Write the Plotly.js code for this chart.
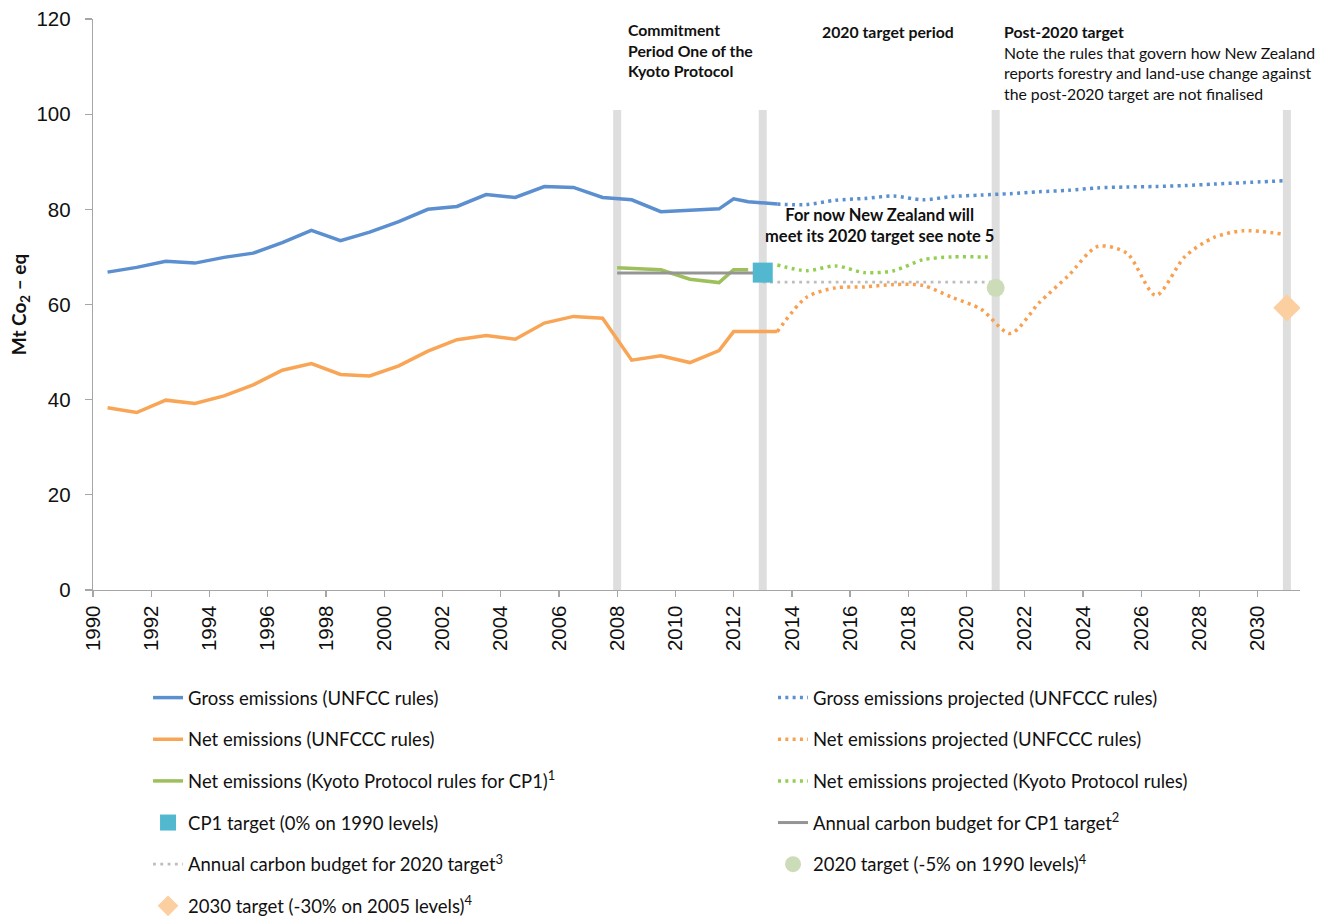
<!DOCTYPE html>
<html>
<head>
<meta charset="utf-8">
<script src="https://cdn.plot.ly/plotly-3.0.1.min.js"></script>
<style>html,body{margin:0;padding:0;background:#fff;}#chart{width:1318px;height:916px;}</style>
</head>
<body>
<div id="chart"></div>
<script>
// ---- Data (Mt CO2-eq), x = position in years ----
var histX = [1990.5,1991.5,1992.5,1993.5,1994.5,1995.5,1996.5,1997.5,1998.5,1999.5,2000.5,2001.5,2002.5,2003.5,2004.5,2005.5,2006.5,2007.5,2008.5,2009.5,2010.5,2011.5,2012.0,2012.5,2013.5];
var grossEmissions = [66.8,67.8,69.1,68.7,69.9,70.8,73.0,75.6,73.4,75.2,77.4,80.0,80.6,83.1,82.5,84.8,84.6,82.5,82.0,79.5,79.8,80.1,82.2,81.6,81.1];
var netEmissions = [38.3,37.3,39.9,39.2,40.8,43.1,46.2,47.6,45.3,45.0,47.1,50.2,52.6,53.5,52.7,56.1,57.5,57.1,48.3,49.2,47.8,50.3,54.3,54.3,54.3];

var kyotoX = [2008.0,2008.5,2009.5,2010.5,2011.5,2012.0,2012.5];
var kyotoNet = [67.7,67.6,67.3,65.3,64.6,67.3,67.3];

var projX = [2013.5,2014.5,2015.5,2016.5,2017.5,2018.5,2019.5,2020.5,2021.5,2022.5,2023.5,2024.5,2025.5,2026.5,2027.5,2028.5,2029.5,2030.85];
var grossProjected = [81.1,81.0,81.9,82.3,82.8,82.0,82.7,83.0,83.3,83.7,84.0,84.5,84.7,84.8,85.0,85.3,85.6,86.0];
var netProjected = [54.3,61.5,63.5,63.7,64.2,64.0,61.5,59.0,53.9,60.4,66.1,72.2,70.8,61.9,70.1,74.1,75.5,74.8];

var kyotoProjX = [2013.5,2014.5,2015.5,2016.5,2017.5,2018.5,2019.5,2020.5,2020.8];
var kyotoProjected = [68.3,67.1,68.1,66.7,67.1,69.4,70.0,70.0,70.0];

var cp1BudgetX = [2008,2013];
var cp1Budget = [66.6,66.6];
var budget2020X = [2013,2021];
var budget2020 = [64.7,64.7];

var cp1TargetX = [2013]; var cp1Target = [66.7];
var target2020X = [2021]; var target2020 = [63.5];
var target2030X = [2031]; var target2030 = [59.3];

var periodBoundaries = [2008, 2013, 2021, 2031];
var xTickVals = [1990,1992,1994,1996,1998,2000,2002,2004,2006,2008,2010,2012,2014,2016,2018,2020,2022,2024,2026,2028,2030];
var xTickText = ["1990","1992","1994","1996","1998","2000","2002","2004","2006","2008","2010","2012","2014","2016","2018","2020","2022","2024","2026","2028","2030"];

var labels = {
  gross: "Gross emissions (UNFCC rules)",
  net: "Net emissions (UNFCCC rules)",
  kyoto: "Net emissions (Kyoto Protocol rules for CP1)<sup>1</sup>",
  cp1Target: "CP1 target (0% on 1990 levels)",
  budget2020: "Annual carbon budget for 2020 target<sup>3</sup>",
  target2030: "2030 target (-30% on 2005 levels)<sup>4</sup>",
  grossProj: "Gross emissions projected (UNFCCC rules)",
  netProj: "Net emissions projected (UNFCCC rules)",
  kyotoProj: "Net emissions projected (Kyoto Protocol rules)",
  cp1Budget: "Annual carbon budget for CP1 target<sup>2</sup>",
  target2020: "2020 target (-5% on 1990 levels)<sup>4</sup>"
};

// ---- Styles ----
var C = {
  blue: '#5b8fcf', orange: '#f9a556', green: '#9dc05a',
  blueDot: '#5a8fd0', orangeDot: '#f9a04f', greenDot: '#92cf50',
  grey: '#959595', greyDot: '#bdbdbd',
  square: '#52b8cf', circle: '#cddcb8', diamond: '#fccfa0', band: '#dedede'
};
var DOT = '3px,4.3px';

var traces = [
  {x: histX, y: grossEmissions, name: labels.gross, mode: 'lines', line: {color: C.blue, width: 3.5}, legend: 'legend', legendgroup: 'a1', legendrank: 1},
  {x: histX, y: netEmissions, name: labels.net, mode: 'lines', line: {color: C.orange, width: 3.5}, legend: 'legend', legendgroup: 'a2', legendrank: 2},
  {x: kyotoX, y: kyotoNet, name: labels.kyoto, mode: 'lines', line: {color: C.green, width: 3.5}, legend: 'legend', legendgroup: 'a3', legendrank: 3},
  {x: projX, y: grossProjected, name: labels.grossProj, mode: 'lines', line: {color: C.blueDot, width: 3.5, dash: DOT, shape: 'spline', smoothing: 0.8}, legend: 'legend2', legendgroup: 'b1', legendrank: 1},
  {x: projX, y: netProjected, name: labels.netProj, mode: 'lines', line: {color: C.orangeDot, width: 3.5, dash: DOT, shape: 'spline', smoothing: 0.8}, legend: 'legend2', legendgroup: 'b2', legendrank: 2},
  {x: kyotoProjX, y: kyotoProjected, name: labels.kyotoProj, mode: 'lines', line: {color: C.greenDot, width: 3.5, dash: DOT, shape: 'spline', smoothing: 0.8}, legend: 'legend2', legendgroup: 'b3', legendrank: 3},
  {x: cp1BudgetX, y: cp1Budget, name: labels.cp1Budget, mode: 'lines', line: {color: C.grey, width: 3}, legend: 'legend2', legendgroup: 'b4', legendrank: 4},
  {x: budget2020X, y: budget2020, name: labels.budget2020, mode: 'lines', line: {color: C.greyDot, width: 2.8, dash: '2.8px,4.5px'}, legend: 'legend', legendgroup: 'a5', legendrank: 5},
  {x: cp1TargetX, y: cp1Target, name: labels.cp1Target, mode: 'markers', marker: {symbol: 'square', size: 20, color: C.square}, legend: 'legend', legendgroup: 'a4', legendrank: 4},
  {x: target2020X, y: target2020, name: labels.target2020, mode: 'markers', marker: {symbol: 'circle', size: 18, color: C.circle}, legend: 'legend2', legendgroup: 'b5', legendrank: 5},
  {x: target2030X, y: target2030, name: labels.target2030, mode: 'markers', marker: {symbol: 'diamond', size: 21, color: C.diamond}, legend: 'legend', legendgroup: 'a6', legendrank: 6}
];

var shapes = periodBoundaries.map(function (b) {
  return {type: 'line', xref: 'x', yref: 'y', x0: b, x1: b, y0: -0.8, y1: 100.9, layer: 'below', line: {color: C.band, width: 8}};
});

var annFont = {family: 'Lato, "Open Sans", sans-serif', size: 15.8, color: '#111'};
var annotations = [
  {xref: 'x', yref: 'y', x: 2008.3, y: 119.9, yshift: 1.5, xanchor: 'left', yanchor: 'top', align: 'left', showarrow: false,
   text: '<b>Commitment<br>Period One of the<br>Kyoto Protocol</b>', font: annFont},
  {xref: 'x', yref: 'y', x: 2014.95, y: 119.8, xanchor: 'left', yanchor: 'top', align: 'left', showarrow: false,
   text: '<b>2020 target period</b>', font: annFont},
  {xref: 'x', yref: 'y', x: 2021.2, y: 119.85, xanchor: 'left', yanchor: 'top', align: 'left', showarrow: false,
   text: '<b>Post-2020 target</b><br>Note the rules that govern how New Zealand<br>reports forestry and land-use change against<br>the post-2020 target are not finalised', font: annFont},
  {xref: 'x', yref: 'y', x: 2017.0, y: 81.3, xanchor: 'center', yanchor: 'top', align: 'center', showarrow: false,
   text: '<b>For now New Zealand will<br>meet its 2020 target see note 5</b>', font: {family: annFont.family, size: 16.5, color: '#111'}}
];

var legendFont = {family: 'Lato, "Open Sans", sans-serif', size: 18.5, color: '#111'};

var layout = {
  width: 1318, height: 916,
  margin: {l: 93, r: 18, t: 19, b: 326, autoexpand: false},
  paper_bgcolor: '#ffffff', plot_bgcolor: '#ffffff',
  showlegend: true,
  font: {family: '"Liberation Sans", Arial, sans-serif', color: '#111'},
  xaxis: {
    range: [1990, 2031.45], tickvals: xTickVals, ticktext: xTickText, tickangle: -90, automargin: false,
    showgrid: false, zeroline: false, showline: true, linecolor: '#a6a6a6', linewidth: 1.3,
    ticks: 'outside', ticklen: 6, tickcolor: '#a6a6a6', tickwidth: 1.3,
    tickfont: {family: '"Liberation Sans", Arial, sans-serif', size: 20.5, color: '#111'}
  },
  yaxis: {
    range: [0, 120], dtick: 20, tick0: 0, automargin: false,
    showgrid: false, zeroline: false, showline: true, linecolor: '#a6a6a6', linewidth: 1.3,
    ticks: 'outside', ticklen: 7, tickcolor: '#a6a6a6', tickwidth: 1.3, ticklabelstandoff: 10,
    tickfont: {family: '"Liberation Sans", Arial, sans-serif', size: 20.5, color: '#111'},
    title: {text: '<b>Mt Co<sub>2</sub> – eq</b>', font: {family: 'Lato, "Open Sans", sans-serif', size: 19, color: '#111'}, standoff: 4}
  },
  legend: {x: 0.0456, y: -0.156, xanchor: 'left', yanchor: 'top', orientation: 'v', font: legendFont,
           bgcolor: 'rgba(0,0,0,0)', borderwidth: 0, tracegroupgap: 14.6, traceorder: 'grouped', itemwidth: 30},
  legend2: {x: 0.5634, y: -0.156, xanchor: 'left', yanchor: 'top', orientation: 'v', font: legendFont,
           bgcolor: 'rgba(0,0,0,0)', borderwidth: 0, tracegroupgap: 14.6, traceorder: 'grouped', itemwidth: 30},
  shapes: shapes,
  annotations: annotations
};

Plotly.newPlot('chart', traces, layout, {displayModeBar: false, staticPlot: true});
</script>
</body>
</html>
